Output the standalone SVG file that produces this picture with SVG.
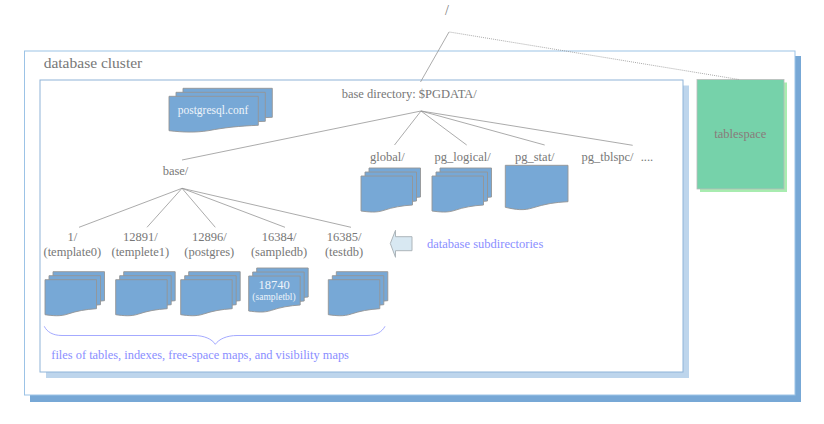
<svg xmlns="http://www.w3.org/2000/svg" width="824" height="424" viewBox="0 0 824 424">
<style>
text{font-family:"Liberation Serif","Times New Roman",serif;fill:#777;font-size:12.5px}
.m{text-anchor:middle}
.b{fill:#8a8eff}
.w{fill:#eef4fa}
.l{stroke:#969696;stroke-width:.8;fill:none}
.p{fill:#77a8d6;stroke:#959595;stroke-width:.9}
</style>
<defs>
<path id="page" d="M0 0H51.5V29C41 29.6 31 31.5 23 34.3C15 37 8 36 0 35Z"/>
<path id="wide" d="M0 0H89.3V29C71 29.6 54 31.5 40 34.3C26 36.5 14 36 0 34.4Z"/>
<g id="stack"><use href="#page" x="8" y="-8"/><use href="#page" x="4" y="-4"/><use href="#page"/></g>
</defs>
<rect width="824" height="424" fill="#fff"/>
<g id="cluster">
<rect x="30" y="56" width="771" height="346" fill="#77a8d6"/>
<rect x="24.500" y="51" width="770.500" height="344" fill="#fff" stroke="#9cc3e6"/>
<text x="43.700" y="68" style="font-size:15.500px">database cluster</text>
</g>
<g id="base-directory-box">
<rect x="46" y="85.500" width="643" height="292.500" fill="#bdd5ec"/>
<rect x="40" y="80" width="643" height="292" fill="#fff" stroke="#8fb4d8"/>
</g>
<g id="tablespace">
<rect x="700" y="82.500" width="87" height="109.500" fill="#a8ecb0"/>
<rect x="697" y="79.500" width="87" height="109.500" fill="#76d2aa" stroke="#bbb" stroke-width=".8"/>
<text x="740.300" y="138" class="m" style="fill:#8a7a7a">tablespace</text>
</g>
<g id="connectors">
<path class="l" d="M449 32L420.500 82"/>
<path class="l" d="M449.500 32L739 79.500" stroke-dasharray="1 1"/>
<path class="l" d="M421 111L182 160M421 111L394.500 145M421 111L466.700 145M421 111L544.700 145M421 111L632.700 145.300"/>
<path class="l" d="M182 188.300L79 227.300M182 188.300L147 227.300M182 188.300L215.300 227.300M182 188.300L285 227.300M182 188.300L351 227.300"/>
</g>
<g id="root"><text x="447" y="15" class="m" style="font-size:14px">/</text></g>
<g id="base-directory"><text x="341.700" y="97.700">base directory: $PGDATA/</text></g>
<g id="postgresql-conf" class="p">
<use href="#wide" x="183" y="88.300"/><use href="#wide" x="176" y="92.300"/><use href="#wide" x="169" y="96.300"/>
<text x="213" y="114" class="m w" style="stroke:none;font-size:11.500px">postgresql.conf</text>
</g>
<g id="base"><text x="175.500" y="175.300" class="m">base/</text></g>
<g id="global"><text x="387.300" y="160.700" class="m">global/</text><use href="#stack" class="p" x="361" y="176"/></g>
<g id="pg_logical"><text x="462.700" y="160.700" class="m">pg_logical/</text><use href="#stack" class="p" x="432" y="176"/></g>
<g id="pg_stat"><text x="534.800" y="160.700" class="m">pg_stat/</text><path class="p" d="M505.300 165.300H568V201.700C555 202.300 545 204 533 207.800C524 210.800 516 209.800 505.300 207.300Z"/></g>
<g id="pg_tblspc"><text x="607.500" y="160.700" class="m">pg_tblspc/</text></g>
<g id="more"><text x="640.700" y="160.700">....</text></g>
<g id="db-1"><text class="m" x="72.300" y="241.300">1/</text><text class="m" x="72.300" y="256.300">(template0)</text><use href="#stack" class="p" x="45" y="279.700"/></g>
<g id="db-12891"><text class="m" x="140.300" y="241.300">12891/</text><text class="m" x="140.300" y="256.300">(templete1)</text><use href="#stack" class="p" x="115.700" y="279.700"/></g>
<g id="db-12896"><text class="m" x="209.300" y="241.300">12896/</text><text class="m" x="209.300" y="256.300">(postgres)</text><use href="#stack" class="p" x="180.700" y="279.700"/></g>
<g id="db-16384"><text class="m" x="279" y="241.300">16384/</text><text class="m" x="279" y="256.300">(sampledb)</text><use href="#stack" class="p" x="248.700" y="276"/>
<text class="m w" x="274" y="289.300">18740</text><text class="m w" x="274" y="300" style="font-size:9.500px">(sampletbl)</text></g>
<g id="db-16385"><text class="m" x="344" y="241.300">16385/</text><text class="m" x="344" y="256.300">(testdb)</text><use href="#stack" class="p" x="328.300" y="279.700"/></g>
<g id="subdir-note">
<path d="M390.300 243.500L395.500 230.300V236.700H412V250.700H395.500V257.300Z" fill="#d8e8f2" stroke="#adb5ba"/>
<text x="427" y="248" class="b">database subdirectories</text>
</g>
<g id="files-note">
<path d="M44.300 326.300C47 332 53 335.500 62 335.500H194C204 335.500 212 339 215.300 344.300C219 339 227 335.500 237 335.500H367C376 335.500 382 332 385 326.300" fill="none" stroke="#a4aaff"/>
<text x="51.300" y="358.700" class="b" style="font-size:12.400px">files of tables, indexes, free-space maps, and visibility maps</text>
</g>
</svg>
